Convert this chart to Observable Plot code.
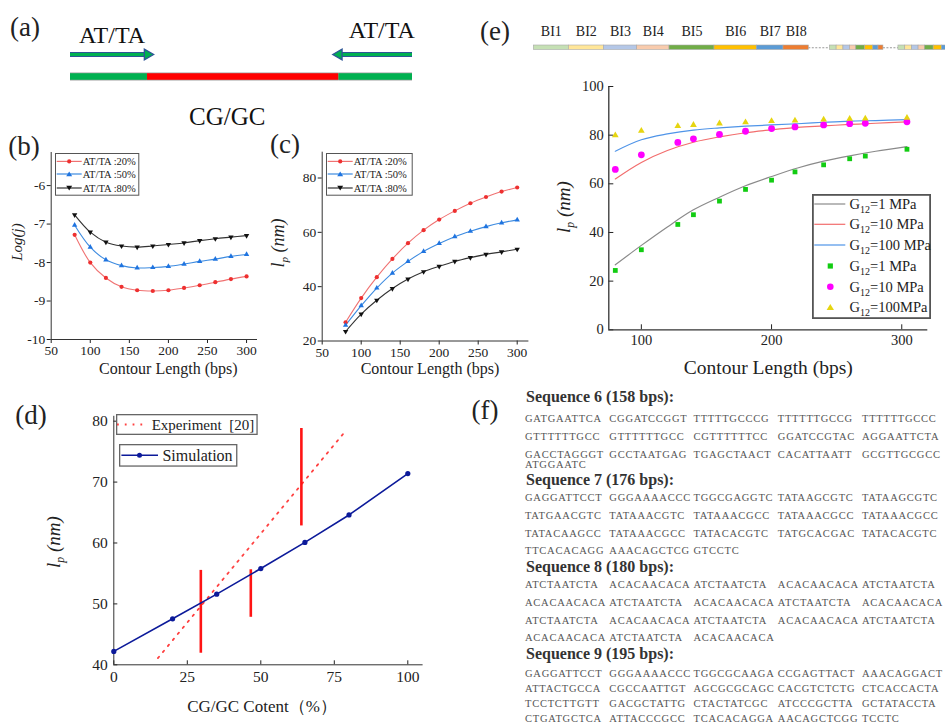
<!DOCTYPE html>
<html><head><meta charset="utf-8">
<script src="https://cdn.jsdelivr.net/npm/d3@7"></script>
<script src="https://cdn.jsdelivr.net/npm/@observablehq/plot@0.6"></script>
<style>
body{margin:0;background:#fff;}
#page{position:relative;width:945px;height:727px;overflow:hidden;font-family:"Liberation Serif","Times New Roman",serif;color:#222;background:#fff;}
</style></head><body><div id="page"></div>
<script>
// ---------- DATA ----------
// (a) schematic strand: fraction (%) of each part
const strandParts = ["AT/TA", "CG/GC", "AT/TA"];
const strandLengths = [22.5, 56, 21.5];

// (b), (c)
const contourLengths = [80, 100, 120, 140, 160, 180, 200, 220, 240, 260, 280, 300];
const atSeries = ["AT/TA :20%", "AT/TA :50%", "AT/TA :80%"];
const logJ20 = [-7.28, -8.0, -8.4, -8.63, -8.72, -8.74, -8.72, -8.66, -8.59, -8.51, -8.43, -8.36];
const logJ50 = [-7.03, -7.6, -7.93, -8.08, -8.14, -8.13, -8.1, -8.04, -7.97, -7.91, -7.84, -7.79];
const logJ80 = [-6.76, -7.21, -7.47, -7.57, -7.6, -7.57, -7.53, -7.49, -7.43, -7.38, -7.34, -7.3];
const lp20 = [26.9, 35.8, 43.5, 50.2, 56, 60.8, 64.7, 67.9, 70.7, 73, 75, 76.5];
const lp50 = [25.8, 33, 39.5, 45, 49.3, 53, 55.9, 58.4, 60.4, 62.1, 63.5, 64.6];
const lp80 = [23.5, 29.9, 35, 39.3, 42.8, 45.5, 47.5, 49.3, 50.7, 51.9, 52.8, 53.8];

// (d)
const cgContent = [0, 20, 35, 50, 65, 80, 100];
const simLp = [42.2, 47.55, 51.6, 55.8, 60.1, 64.6, 71.4];
const expLineCg = [15, 78];
const expLineLp = [41.1, 77.9];
const expBarCg = [29.6, 46.6, 63.8];
const expBarLow = [41.9, 47.8, 62.8];
const expBarHigh = [55.5, 55.6, 78.8];

// (e)
const biNames = ["BI1", "BI2", "BI3", "BI4", "BI5", "BI6", "BI7", "BI8"];
const biLengths = [35, 35, 33.4, 32.3, 45, 42.3, 26.7, 25.3];
const gSeries = ["G12=1 MPa", "G12=10 MPa", "G12=100 MPa"];
const fitLengths = [80, 100, 120, 140, 160, 180, 200, 220, 240, 260, 280, 304];
const fitG1 = [26.7, 34.7, 42.3, 49.3, 54.5, 59.2, 63, 66.5, 69.3, 71.5, 73.4, 75.3];
const fitG10 = [62, 68.8, 73.7, 77.1, 79.3, 81, 82.2, 83.2, 83.8, 84.4, 84.9, 85.5];
const fitG100 = [73.4, 78.1, 80.5, 82.1, 83, 83.7, 84.2, 84.7, 85.3, 85.8, 86, 86.4];
const simLengths = [80, 100, 128, 140, 160, 180, 200, 218, 240, 260, 272, 304];
const simG1 = [24.4, 32.9, 43.3, 47.3, 52.9, 57.7, 61.5, 64.9, 67.8, 70.3, 71.4, 74.2];
const simG10 = [65.9, 71.9, 77, 78.5, 80.3, 81.6, 82.7, 83.4, 84.2, 84.7, 84.9, 85.5];
const simG100 = [79.9, 81.8, 83.7, 84.2, 84.8, 85.3, 85.8, 86, 86.4, 86.7, 86.8, 87.1];

// (f)
const seqTitles = ["Sequence 6 (158 bps):", "Sequence 7 (176 bps):", "Sequence 8 (180 bps):", "Sequence 9 (195 bps):"];
const seq6 = ["GATGAATTCA CGGATCCGGT TTTTTGCCCG TTTTTTGCCG TTTTTTGCCC",
  "GTTTTTTGCC GTTTTTTGCC CGTTTTTTCC GGATCCGTAC AGGAATTCTA",
  "GACCTAGGGT GCCTAATGAG TGAGCTAACT CACATTAATT GCGTTGCGCC",
  "ATGGAATC"];
const seq7 = ["GAGGATTCCT GGGAAAACCC TGGCGAGGTC TATAAGCGTC TATAAGCGTC",
  "TATGAACGTC TATAAACGTC TATAAACGCC TATAAACGCC TATAAACGCC",
  "TATACAAGCC TATAAACGCC TATACACGTC TATGCACGAC TATACACGTC",
  "TTCACACAGG AAACAGCTCG GTCCTC"];
const seq8 = ["ATCTAATCTA ACACAACACA ATCTAATCTA ACACAACACA ATCTAATCTA",
  "ACACAACACA ATCTAATCTA ACACAACACA ATCTAATCTA ACACAACACA",
  "ATCTAATCTA ACACAACACA ATCTAATCTA ACACAACACA ATCTAATCTA",
  "ACACAACACA ATCTAATCTA ACACAACACA"];
const seq9 = ["GAGGATTCCT GGGAAAACCC TGGCGCAAGA CCGAGTTACT AAACAGGACT",
  "ATTACTGCCA CGCCAATTGT AGCGCGCAGC CACGTCTCTG CTCACCACTA",
  "TCCTCTTGTT GACGCTATTG CTACTATCGC ATCCCGCTTA GCTATACCTA",
  "CTGATGCTCA ATTACCCGCC TCACACAGGA AACAGCTCGG TCCTC"];

// ---------- HELPERS ----------
const page = document.getElementById("page");
const FONT = "'Liberation Serif', 'Times New Roman', serif";
function mount(node, left, top, w, h) {
  const d = document.createElement("div");
  d.style.cssText = `position:absolute;left:${left}px;top:${top}px;width:${w}px;height:${h}px;`;
  d.appendChild(node);
  page.appendChild(d);
}
function addText(html, x, y, style, rotate) {
  const d = document.createElement("div");
  d.innerHTML = html;
  d.style.cssText = `position:absolute;left:${x}px;top:${y}px;white-space:nowrap;line-height:1;font-family:${FONT};transform:translate(-50%,-50%)${rotate ? " rotate(-90deg)" : ""};${style || ""}`;
  page.appendChild(d);
}
const triangleDown = {
  draw(context, size) {
    const y = -Math.sqrt(size / (Math.sqrt(3) * 3));
    context.moveTo(0, -y * 2);
    context.lineTo(-Math.sqrt(3) * y, y);
    context.lineTo(Math.sqrt(3) * y, y);
    context.closePath();
  }
};
function markerSvg(type, x, y, s, fill) {
  if (type === "circle") return `<circle cx="${x}" cy="${y}" r="${s}" fill="${fill}"/>`;
  if (type === "square") return `<rect x="${x - s}" y="${y - s}" width="${2 * s}" height="${2 * s}" fill="${fill}"/>`;
  if (type === "tri") return `<path d="M${x},${y - s}L${x + s * 1.15},${y + s * 0.85}L${x - s * 1.15},${y + s * 0.85}Z" fill="${fill}"/>`;
  if (type === "triDown") return `<path d="M${x},${y + s}L${x + s * 1.15},${y - s * 0.85}L${x - s * 1.15},${y - s * 0.85}Z" fill="${fill}"/>`;
  return "";
}
function drawLegend(cfg) {
  const {left, top, width, height, fontSize, rows, lineX, markX, textX, border, borderWidth} = cfg;
  let s = `<svg xmlns="http://www.w3.org/2000/svg" width="${width}" height="${height}" style="position:absolute;left:${left}px;top:${top}px;overflow:visible;font-family:${FONT}">`;
  s += `<rect x="${borderWidth / 2}" y="${borderWidth / 2}" width="${width - borderWidth}" height="${height - borderWidth}" fill="#fff" stroke="${border}" stroke-width="${borderWidth}"/>`;
  rows.forEach(r => {
    if (r.line) s += `<line x1="${lineX[0]}" x2="${lineX[1]}" y1="${r.y}" y2="${r.y}" stroke="${r.line}" stroke-width="${r.lw || 1.2}" ${r.dash ? `stroke-dasharray="${r.dash}"` : ""}/>`;
    if (r.marker) s += markerSvg(r.marker, markX, r.y, r.size, r.fill);
    s += `<text x="${textX}" y="${r.y}" dy="0.35em" font-size="${fontSize}" fill="#222">${r.label}</text>`;
  });
  s += `</svg>`;
  page.insertAdjacentHTML("beforeend", s);
}
function subLabel(txt) { // "G12=..." -> G with subscript 12
  const m = txt.match(/^G12(.*)$/);
  return `G<tspan dy="4" font-size="10">12</tspan><tspan dy="-4">${m[1]}</tspan>`;
}
const numFmt = d => String(d);

// ---------- (a) ----------
{
  const segRows = []; let acc = 0;
  strandParts.forEach((p, i) => { segRows.push({part: p, x1: acc, x2: acc + strandLengths[i]}); acc += strandLengths[i]; });
  const atRows = segRows.filter(d => d.part === "AT/TA");
  const arrowRows = [{x1: atRows[0].x1, x2: atRows[0].x2}, {x1: atRows[1].x2, x2: atRows[1].x1}];
  const chart = Plot.plot({
    width: 460, height: 130, margin: 0,
    style: {fontFamily: FONT, background: "transparent", color: "#111"},
    x: {domain: [0, 100], range: [70, 412], axis: null},
    y: {type: "point", domain: ["arrow", "strand"], range: [54, 76.5], padding: 0, axis: null},
    marks: [
      Plot.ruleY(segRows, {x1: "x1", x2: "x2", y: () => "strand", stroke: "#a0a0a0", strokeWidth: 8}),
      Plot.ruleY(segRows, {x1: "x1", x2: "x2", y: () => "strand", stroke: d => d.part === "AT/TA" ? "#00b050" : "#ff0000", strokeWidth: 6.5}),
      Plot.ruleY(arrowRows, {x1: "x1", x2: "x2", y: () => "arrow", stroke: "#2e5597", strokeWidth: 5.2}),
      Plot.ruleY(arrowRows, {x1: "x1", x2: "x2", y: () => "arrow", stroke: "#00b050", strokeWidth: 2.8}),
      Plot.dot(arrowRows, {x: "x2", y: () => "arrow", symbol: "triangle", rotate: d => d.x2 > d.x1 ? 90 : -90, r: 4, fill: "#00b050", stroke: "#2e5597", strokeWidth: 1.3}),
      Plot.text(atRows.slice(0, 1), {x: d => (d.x1 + d.x2) / 2, y: () => "arrow", text: "part", dy: -19, dx: 3, fontSize: 24}),
      Plot.text(atRows.slice(1), {x: d => (d.x1 + d.x2) / 2, y: () => "arrow", text: "part", dy: -24, dx: 6, fontSize: 24}),
      Plot.text(segRows.filter(d => d.part === "CG/GC"), {x: d => (d.x1 + d.x2) / 2, y: () => "strand", text: "part", dy: 40, dx: -16, fontSize: 25})
    ]
  });
  mount(chart, 0, 0, 460, 130);
}

// ---------- (b), (c) ----------
const lineCols = ["#f07272", "#3d8be0", "#333333"];
const dotCols = ["#ee3030", "#1f74e0", "#111111"];
function seriesRows(xs, arrs) { return arrs.flatMap((a, s) => xs.map((x, i) => ({x, y: a[i], s}))); }
function bcPlot(rows, o) {
  return Plot.plot({
    width: o.width, height: 250, marginLeft: o.ml, marginRight: o.mr, marginTop: o.mt, marginBottom: o.mb,
    style: {fontFamily: FONT, fontSize: "13.5px", background: "transparent", color: "#222"},
    x: {domain: [50, o.xmax]},
    y: {domain: o.yDomain},
    marks: [
      Plot.axisX({ticks: [50, 100, 150, 200, 250, 300], tickSize: 4, tickPadding: 2, label: null, tickFormat: numFmt}),
      Plot.axisY({ticks: o.yTicks, tickSize: 4, tickPadding: 2, label: null, tickFormat: numFmt}),
      Plot.ruleX([50], {stroke: "#333"}),
      Plot.ruleY([o.yDomain[0]], {stroke: "#333"}),
      Plot.line(rows, {x: "x", y: "y", z: "s", stroke: d => lineCols[d.s], curve: "catmull-rom", strokeWidth: 1.1}),
      Plot.dot(rows.filter(d => d.s === 0), {x: "x", y: "y", symbol: "circle", r: 2.1, fill: dotCols[0]}),
      Plot.dot(rows.filter(d => d.s === 1), {x: "x", y: "y", symbol: "triangle", r: 2.0, fill: dotCols[1]}),
      Plot.dot(rows.filter(d => d.s === 2), {x: "x", y: "y", symbol: triangleDown, r: 2.0, fill: dotCols[2]})
    ]
  });
}
mount(bcPlot(seriesRows(contourLengths, [logJ20, logJ50, logJ80]),
  {width: 260, ml: 50.7, mr: 3, mt: 22, mb: 41, xmax: 314, yDomain: [-10, -5.14], yTicks: [-10, -9, -8, -7, -6]}), 0, 130, 260, 250);
mount(bcPlot(seriesRows(contourLengths, [lp20, lp50, lp80]),
  {width: 280, ml: 71.7, mr: 1.6, mt: 21.7, mb: 39.5, xmax: 315, yDomain: [20, 89.5], yTicks: [20, 40, 60, 80]}), 250, 130, 280, 250);

// ---------- (d) ----------
{
  const simRows = cgContent.map((x, i) => ({x, y: simLp[i]}));
  const expRows = expLineCg.map((x, i) => ({x, y: expLineLp[i]}));
  const barRows = expBarCg.map((x, i) => ({x, y1: expBarLow[i], y2: expBarHigh[i]}));
  const chart = Plot.plot({
    width: 470, height: 340, marginLeft: 113.3, marginRight: 47.4, marginTop: 30.8, marginBottom: 60.7,
    style: {fontFamily: FONT, fontSize: "15.5px", background: "transparent", color: "#222"},
    x: {domain: [0, 105.2]},
    y: {domain: [40, 80.8]},
    marks: [
      Plot.axisX({ticks: [0, 25, 50, 75, 100], tickSize: -4, tickPadding: 10, label: null, tickFormat: numFmt}),
      Plot.axisY({ticks: [40, 50, 60, 70, 80], tickSize: -4, tickPadding: 10, label: null, tickFormat: numFmt}),
      Plot.ruleX([0], {stroke: "#333"}),
      Plot.ruleY([40], {stroke: "#333"}),
      Plot.line(expRows, {x: "x", y: "y", stroke: "#ff4040", strokeWidth: 1.8, strokeDasharray: "1.8 6"}),
      Plot.ruleX(barRows, {x: "x", y1: "y1", y2: "y2", stroke: "#ff1414", strokeWidth: 2.6}),
      Plot.line(simRows, {x: "x", y: "y", stroke: "#0c1a9a", strokeWidth: 1.6}),
      Plot.dot(simRows, {x: "x", y: "y", r: 2.6, fill: "#0c1a9a"})
    ]
  });
  mount(chart, 0, 385, 470, 340);
}

// ---------- (e) top bar ----------
{
  const biColors = ["#c5e0b4", "#ffe699", "#b4c7e7", "#f8cbad", "#70ad47", "#ffc000", "#5b9bd5", "#ed7d31"];
  const biRows = []; let bx = 0;
  biNames.forEach((n, i) => { biRows.push({name: n, x1: bx, x2: bx + biLengths[i], color: biColors[i]}); bx += biLengths[i]; });
  const repScale = 0.195, gaps = [21, 15];
  const allRows = biRows.slice(); const gapRows = [];
  let start = bx + gaps[0]; gapRows.push({x1: bx, x2: start});
  for (let r = 0; r < 2; r++) {
    let rx = start;
    biLengths.forEach((L, i) => { allRows.push({x1: rx, x2: rx + L * repScale, color: biColors[i]}); rx += L * repScale; });
    if (r === 0) { gapRows.push({x1: rx, x2: rx + gaps[1]}); start = rx + gaps[1]; }
  }
  const chart = Plot.plot({
    width: 425, height: 60, marginLeft: 13.3, marginRight: 0, marginTop: 45, marginBottom: 10.5,
    style: {fontFamily: FONT, background: "transparent", color: "#222"},
    x: {domain: [0, 411.7], axis: null},
    y: {domain: [0, 1], axis: null},
    marks: [
      Plot.ruleY(gapRows, {x1: "x1", x2: "x2", y: () => 0.5, stroke: "#999", strokeDasharray: "2 1.5"}),
      Plot.rect(allRows, {x1: "x1", x2: "x2", y1: () => 0, y2: () => 1, fill: "color", stroke: "#a8a8a8", strokeWidth: 0.6}),
      Plot.text(biRows, {x: d => (d.x1 + d.x2) / 2, y: () => 1, text: "name", dy: -14, fontSize: 14})
    ]
  });
  mount(chart, 520, 0, 425, 60);
}

// ---------- (e) plot ----------
{
  const fitCols = ["#8a8a8a", "#f26d6d", "#4f94e8"];
  const fitRows = seriesRows(fitLengths, [fitG1, fitG10, fitG100]);
  const pts = (arr) => simLengths.map((x, i) => ({x, y: arr[i]}));
  const chart = Plot.plot({
    width: 425, height: 320, marginLeft: 88.3, marginRight: 17.7, marginTop: 16, marginBottom: 60.7,
    style: {fontFamily: FONT, fontSize: "14.5px", background: "transparent", color: "#222"},
    x: {domain: [75, 320]},
    y: {domain: [0, 100]},
    marks: [
      Plot.axisX({ticks: [100, 200, 300], tickSize: -5, tickPadding: 10, label: null, tickFormat: numFmt}),
      Plot.axisY({ticks: [0, 20, 40, 60, 80, 100], tickSize: -5, tickPadding: 10, label: null, tickFormat: numFmt}),
      Plot.ruleX([75], {stroke: "#333", strokeWidth: 1.3}),
      Plot.ruleY([0], {stroke: "#333", strokeWidth: 1.3}),
      Plot.line(fitRows, {x: "x", y: "y", z: "s", stroke: d => fitCols[d.s], curve: "catmull-rom", strokeWidth: 1.2}),
      Plot.dot(pts(simG1), {x: "x", y: "y", symbol: "square", r: 2.7, fill: "#12cc12"}),
      Plot.dot(pts(simG10), {x: "x", y: "y", symbol: "circle", r: 3.4, fill: "#ff00ff"}),
      Plot.dot(pts(simG100), {x: "x", y: "y", symbol: "triangle", r: 2.5, fill: "#e6d510"})
    ]
  });
  mount(chart, 520, 70, 425, 320);
}

// ---------- legends ----------
const bcLegendRows = [
  {y: 8.4, line: lineCols[0], marker: "circle", size: 2.1, fill: dotCols[0], label: atSeries[0]},
  {y: 21, line: lineCols[1], marker: "tri", size: 2.6, fill: dotCols[1], label: atSeries[1]},
  {y: 35, line: lineCols[2], marker: "triDown", size: 2.6, fill: dotCols[2], label: atSeries[2]}
];
drawLegend({left: 55, top: 153.3, width: 84.3, height: 42.7, fontSize: 10.5, rows: bcLegendRows, lineX: [1.7, 26.7], markX: 14.2, textX: 27.7, border: "#555", borderWidth: 1});
drawLegend({left: 326, top: 153.3, width: 86.7, height: 42.7, fontSize: 10.5, rows: bcLegendRows, lineX: [1.7, 26.7], markX: 14.2, textX: 27.7, border: "#555", borderWidth: 1});
drawLegend({left: 811.7, top: 194, width: 119, height: 125, fontSize: 14.5, lineX: [2.3, 33.3], markX: 18.3, textX: 37.6, border: "#555", borderWidth: 1.8,
  rows: [
    {y: 10, line: "#8a8a8a", label: subLabel(gSeries[0])},
    {y: 30.3, line: "#f26d6d", label: subLabel(gSeries[1])},
    {y: 51, line: "#4f94e8", label: subLabel(gSeries[2])},
    {y: 72, marker: "square", size: 2.6, fill: "#12cc12", label: subLabel(gSeries[0])},
    {y: 92.7, marker: "circle", size: 3.3, fill: "#ff00ff", label: subLabel(gSeries[1])},
    {y: 113.3, marker: "tri", size: 3.2, fill: "#e6d510", label: subLabel("G12=100MPa")}
  ]});
drawLegend({left: 116, top: 414, width: 141.7, height: 21, fontSize: 15, lineX: [1, 27], markX: 0, textX: 35.7, border: "#666", borderWidth: 1.3,
  rows: [{y: 10.5, line: "#ff4040", lw: 1.8, dash: "1.8 6", label: "Experiment&#160;&#160;[20]"}]});
drawLegend({left: 119.3, top: 444, width: 118.4, height: 22.7, fontSize: 16, lineX: [2.4, 39], markX: 20.5, textX: 43.4, border: "#666", borderWidth: 1.3,
  rows: [{y: 11.3, line: "#0c1a9a", lw: 1.6, marker: "circle", size: 2.5, fill: "#0c1a9a", label: "Simulation"}]});

// ---------- axis titles & panel labels ----------
const lpLabel = `<i>l</i><i style="font-size:0.62em;position:relative;top:0.35em">p</i><i> (nm)</i>`;
addText("Contour Length (bps)", 168.3, 369.3, "font-size:16px");
addText("<i>Log(j)</i>", 16.7, 241.7, "font-size:15px", true);
addText("Contour Length (bps)", 430, 369, "font-size:16px");
addText(lpLabel, 278.3, 243, "font-size:18px", true);
addText("CG/GC Cotent（%）", 262, 706, "font-size:17px");
addText(lpLabel, 53, 541.7, "font-size:19px", true);
addText("Contour Length (bps)", 768.3, 367.7, "font-size:19.5px");
addText(lpLabel, 563.3, 206.7, "font-size:19px", true);
[["(a)", 25, 27], ["(b)", 24, 146], ["(c)", 285, 144], ["(d)", 31, 415], ["(e)", 495, 31], ["(f)", 485, 410]]
  .forEach(([t, x, y]) => addText(t, x, y, "font-size:27px"));

// ---------- (f) sequences ----------
{
  const seqs = [seq6, seq7, seq8, seq9];
  const headY = [397, 480, 567, 654];
  const lineY = [[419, 437, 455, 465], [498, 516, 534, 551], [585, 603, 621, 638], [674, 689, 704, 719]];
  const colX = [525, 609.3, 693.5, 777.8, 862];
  seqs.forEach((rows, k) => {
    const h = document.createElement("div");
    h.textContent = seqTitles[k];
    h.style.cssText = `position:absolute;left:526px;top:${headY[k]}px;transform:translateY(-50%);font-family:${FONT};font-weight:bold;font-size:16px;line-height:1;color:#333;white-space:nowrap;`;
    page.appendChild(h);
    rows.forEach((row, r) => {
      row.split(" ").forEach((g, c) => {
        const d = document.createElement("div");
        d.textContent = g;
        d.style.cssText = `position:absolute;left:${colX[c]}px;top:${lineY[k][r]}px;transform:translateY(-50%);font-family:${FONT};font-size:10.5px;letter-spacing:0.75px;line-height:1;color:#555;white-space:nowrap;`;
        page.appendChild(d);
      });
    });
  });
}
</script></body></html>
